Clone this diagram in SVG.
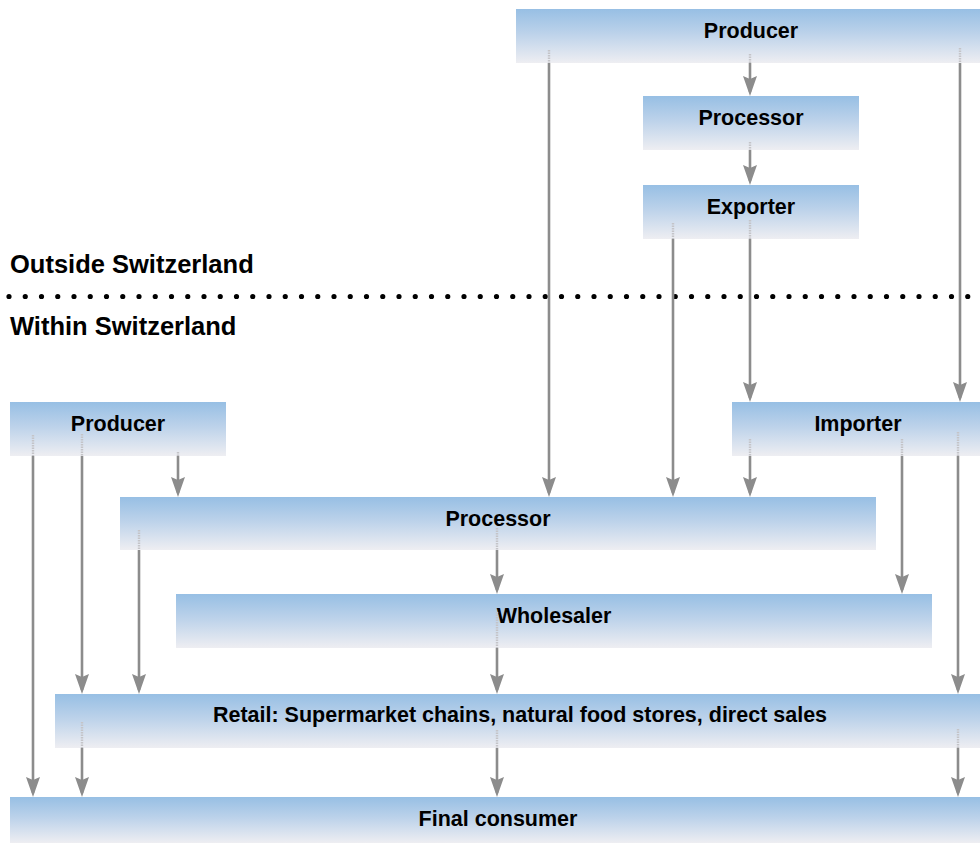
<svg xmlns="http://www.w3.org/2000/svg" width="980" height="843" viewBox="0 0 980 843">
<style>
.box{fill:url(#g)}
.lbl{font-family:"Liberation Sans",Arial,Helvetica,sans-serif;font-weight:bold;font-size:21.5px;fill:#000;text-anchor:middle}
.sec{font-family:"Liberation Sans",Arial,Helvetica,sans-serif;font-weight:bold;font-size:25.5px;fill:#000}
.ln{stroke:#8c8c8c;stroke-width:2.6;fill:none;marker-end:url(#ah)}
.fd{stroke:#c4c4c8;stroke-width:2.4;fill:none;stroke-dasharray:1.5 1}
</style>
<defs>
<linearGradient id="g" x1="0" y1="0" x2="0" y2="1">
<stop offset="0" stop-color="#97bfe4"/>
<stop offset="0.45" stop-color="#bcd2ea"/>
<stop offset="1" stop-color="#eeeef2"/>
</linearGradient>
<marker id="ah" viewBox="0 0 20 14" refX="16" refY="7" markerWidth="20" markerHeight="14" markerUnits="userSpaceOnUse" orient="auto">
<path d="M0,0 L20,7 L0,14 L3,7 z" fill="#8c8c8c"/>
</marker>
</defs>
<rect width="980" height="843" fill="#fff"/>

<g id="nodes">
<g id="n-producer-out"><rect class="box" x="516" y="9" width="470" height="54"/><text class="lbl" x="751" y="38">Producer</text></g>
<g id="n-processor-out"><rect class="box" x="643" y="96" width="216" height="54"/><text class="lbl" x="751" y="125">Processor</text></g>
<g id="n-exporter"><rect class="box" x="643" y="185" width="216" height="54"/><text class="lbl" x="751" y="214">Exporter</text></g>
<g id="n-producer-in"><rect class="box" x="10" y="402" width="216" height="54"/><text class="lbl" x="118" y="431">Producer</text></g>
<g id="n-importer"><rect class="box" x="732" y="402" width="254" height="54"/><text class="lbl" x="858" y="431">Importer</text></g>
<g id="n-processor-in"><rect class="box" x="120" y="497" width="756" height="53"/><text class="lbl" x="498" y="526">Processor</text></g>
<g id="n-wholesaler"><rect class="box" x="176" y="594" width="756" height="54"/><text class="lbl" x="554" y="623">Wholesaler</text></g>
<g id="n-retail"><rect class="box" x="55" y="694" width="931" height="54"/><text class="lbl" x="520" y="722">Retail: Supermarket chains, natural food stores, direct sales</text></g>
<g id="n-consumer"><rect class="box" x="10" y="797" width="976" height="46"/><text class="lbl" x="498" y="826">Final consumer</text></g>
</g>

<g id="labels">
<text class="sec" x="10" y="273">Outside Switzerland</text>
<line x1="9" y1="296.5" x2="980" y2="296.5" stroke="#000" stroke-width="5.2" stroke-linecap="round" stroke-dasharray="0 16.25"/>
<text class="sec" x="10" y="335">Within Switzerland</text>
</g>

<g id="connectors">
<path class="fd" d="M549,50V63 M750,54V63 M960,48V63 M750,142V150 M673,223V239 M750,220V239 M33,435V456 M82,434V456 M178,452V456 M139,530V550 M497,528V550 M750,439V456 M902,439V456 M958,432V456 M497,612V648 M82,722V748 M497,730V748 M958,729V748"/>
<path class="ln" d="M549,63V493"/>
<path class="ln" d="M750,63V92"/>
<path class="ln" d="M960,63V398"/>
<path class="ln" d="M750,150V181"/>
<path class="ln" d="M673,239V493"/>
<path class="ln" d="M750,239V398"/>
<path class="ln" d="M33,456V793"/>
<path class="ln" d="M82,456V690"/>
<path class="ln" d="M178,456V493"/>
<path class="ln" d="M139,550V690"/>
<path class="ln" d="M497,550V590"/>
<path class="ln" d="M750,456V493"/>
<path class="ln" d="M902,456V590"/>
<path class="ln" d="M958,456V690"/>
<path class="ln" d="M497,648V690"/>
<path class="ln" d="M82,748V793"/>
<path class="ln" d="M497,748V793"/>
<path class="ln" d="M958,748V793"/>
</g>
</svg>
